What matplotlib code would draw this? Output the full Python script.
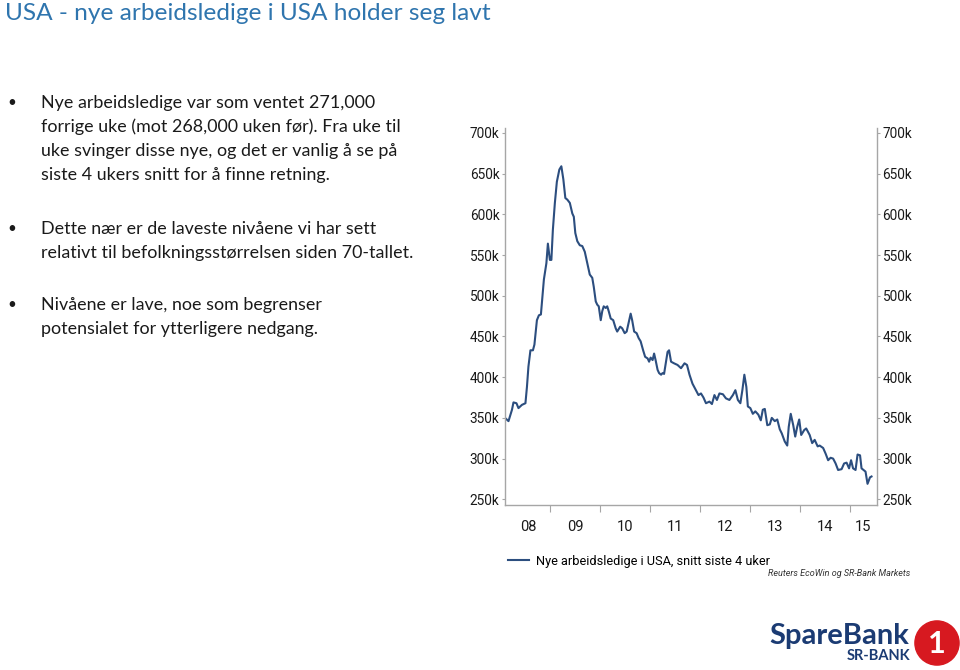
import matplotlib.pyplot as plt
from matplotlib.patches import Circle
from matplotlib.ticker import FixedLocator, FuncFormatter

# weekly claims, 4 week average (thousands)
years = [2008.09, 2008.16, 2008.23, 2008.26, 2008.32, 2008.36, 2008.43, 2008.50, 2008.53, 2008.56,
         2008.60, 2008.65, 2008.68, 2008.73, 2008.77, 2008.81, 2008.87, 2008.92, 2008.95, 2008.99,
         2009.02, 2009.05, 2009.09, 2009.13, 2009.18, 2009.22, 2009.26, 2009.30, 2009.34, 2009.39,
         2009.44, 2009.47, 2009.50, 2009.54, 2009.59, 2009.64, 2009.69, 2009.74, 2009.79, 2009.84,
         2009.87, 2009.91, 2009.94, 2009.97, 2010.01, 2010.04, 2010.07, 2010.11, 2010.14, 2010.17,
         2010.21, 2010.26, 2010.31, 2010.34, 2010.40, 2010.44, 2010.49, 2010.53, 2010.58, 2010.61,
         2010.64, 2010.68, 2010.73, 2010.77, 2010.81, 2010.86, 2010.90, 2010.95, 2010.98, 2011.01,
         2011.05, 2011.08, 2011.11, 2011.15, 2011.18, 2011.22, 2011.25, 2011.28, 2011.32, 2011.35,
         2011.38, 2011.42, 2011.48, 2011.55, 2011.62, 2011.69, 2011.74, 2011.79, 2011.85, 2011.92,
         2011.97, 2012.02, 2012.07, 2012.12, 2012.19, 2012.24, 2012.29, 2012.34, 2012.39, 2012.46,
         2012.52, 2012.59, 2012.66, 2012.71, 2012.76, 2012.81, 2012.85, 2012.89, 2012.93, 2012.96,
         2013.01, 2013.06, 2013.11, 2013.17, 2013.22, 2013.26, 2013.30, 2013.35, 2013.40, 2013.44,
         2013.50, 2013.55, 2013.60, 2013.64, 2013.70, 2013.75, 2013.78, 2013.82, 2013.87, 2013.91,
         2013.95, 2013.99, 2014.03, 2014.09, 2014.13, 2014.20, 2014.25, 2014.30, 2014.36, 2014.40,
         2014.47, 2014.52, 2014.57, 2014.62, 2014.67, 2014.72, 2014.77, 2014.84, 2014.89, 2014.94,
         2014.99, 2015.03, 2015.07, 2015.12, 2015.16, 2015.21, 2015.24, 2015.28, 2015.32, 2015.36,
         2015.41, 2015.44]
claims = [350, 346, 360, 369, 368, 362, 366, 368, 388, 413,
          433, 433, 440, 470, 476, 477, 520, 540, 564, 544,
          544, 581, 614, 640, 655, 659, 643, 620, 618, 614,
          601, 597, 577, 567, 562, 561, 554, 540, 526, 522,
          511, 493, 489, 487, 470, 481, 487, 485, 487, 481,
          472, 470, 460, 456, 462, 460, 454, 456, 470, 478,
          470, 456, 454, 448, 444, 433, 425, 423, 419, 424,
          421, 429, 421, 409, 405, 403, 405, 404, 419, 431,
          433, 419, 417, 415, 411, 417, 415, 403, 392, 384,
          378, 380, 375, 368, 370, 367, 378, 372, 380, 379,
          374, 372, 378, 384, 372, 368, 384, 403, 388, 364,
          362, 355, 358, 354, 347, 360, 361, 341, 342, 350,
          346, 348, 336, 331, 321, 316, 339, 355, 341, 327,
          339, 348, 329, 335, 337, 329, 319, 323, 315, 316,
          313, 306, 298, 301, 300, 294, 286, 287, 294, 295,
          288, 298, 288, 286, 305, 304, 288, 286, 284, 269,
          277, 278]

year_labels = ['08', '09', '10', '11', '12', '13', '14', '15']
y_ticks = [250, 300, 350, 400, 450, 500, 550, 600, 650, 700]

line_color = '#2C4E7F'
text_color = '#1a1a1a'
grey = '#a6a6a6'
chart_font = 'Roboto'

fig = plt.figure(figsize=(9.6, 6.7), dpi=100)

# slide title and bullet text
fig.text(5 / 960, 1 - 14 / 670, 'USA - nye arbeidsledige i USA holder seg lavt',
         fontsize=17.6, color='#2F75AE', family='Lato', va='center', ha='left')

bullets = [
    (103, ['Nye arbeidsledige var som ventet 271,000',
           'forrige uke (mot 268,000 uken før). Fra uke til',
           'uke svinger disse nye, og det er vanlig å se på',
           'siste 4 ukers snitt for å finne retning.']),
    (229, ['Dette nær er de laveste nivåene vi har sett',
           'relativt til befolkningsstørrelsen siden 70-tallet.']),
    (305, ['Nivåene er lave, noe som begrenser',
           'potensialet for ytterligere nedgang.']),
]
for ypix, lines in bullets:
    fig.text(7 / 960, 1 - ypix / 670, '•', fontsize=11, color=text_color,
             family='Lato', va='center')
    for i, line in enumerate(lines):
        fig.text(41 / 960, 1 - (ypix + i * 24) / 670, line, fontsize=12.9,
                 color=text_color, family='Lato', va='center')

# chart
ax = fig.add_axes([505 / 960, 1 - 505 / 670, 372 / 960, 377 / 670])
ax.plot(years, claims, color=line_color, lw=1.5)
ax.set_xlim(2008.09, 2015.55)
ax.set_ylim(243, 706)

for side in ['left', 'right', 'bottom']:
    ax.spines[side].set_color(grey)
    ax.spines[side].set_linewidth(1.0)
ax.spines['top'].set_visible(False)

ax.set_yticks(y_ticks)
ax.yaxis.set_major_formatter(FuncFormatter(lambda v, p: f'{int(v)}k'))
ax.tick_params(axis='y', which='both', length=2, color=grey, labelsize=9.8,
               labelcolor=text_color, left=True, right=True,
               labelleft=True, labelright=True, pad=2)
for lab in ax.get_yticklabels(which='both'):
    lab.set_family(chart_font)

ax.xaxis.set_major_locator(FixedLocator(range(2009, 2016)))
ax.xaxis.set_major_formatter(FuncFormatter(lambda v, p: ''))
mid = [2008.55] + [y + 0.5 for y in range(2009, 2015)] + [2015.27]
ax.xaxis.set_minor_locator(FixedLocator(mid))
ax.set_xticklabels(year_labels, minor=True, family=chart_font)
ax.tick_params(axis='x', which='major', length=5, color=grey, direction='out')
ax.tick_params(axis='x', which='minor', length=0, labelsize=10.5, colors=text_color, pad=11)

# legend below chart
ax.plot([], [], color=line_color, lw=1.5, label='Nye arbeidsledige i USA, snitt siste 4 uker')
ax.legend(loc='upper left', bbox_to_anchor=(-0.005, -0.118), frameon=False,
          prop={'family': chart_font, 'size': 9.2},
          handlelength=1.6, handletextpad=0.6, borderaxespad=0)

fig.text(910 / 960, 1 - 574 / 670, 'Reuters EcoWin og SR-Bank Markets', fontsize=6.5,
         style='italic', color='#333333', ha='right', va='center', family=chart_font)

# logo
fig.text(769 / 960, 1 - 636 / 670, 'SpareBank', fontsize=21, fontweight='bold',
         color='#1B3B73', family='Lato', ha='left', va='center')
fig.text(910 / 960, 1 - 656 / 670, 'SR-BANK', fontsize=10.5, fontweight='bold',
         color='#1B3B73', family='Lato', ha='right', va='center')
lax = fig.add_axes([914 / 960, 1 - 666 / 670, 46 / 960, 46 / 670])
lax.set_xlim(0, 1)
lax.set_ylim(0, 1)
lax.set_aspect('equal')
lax.axis('off')
lax.add_patch(Circle((0.5, 0.5), 0.48, color='#D71920'))
lax.text(0.5, 0.48, '1', color='white', fontsize=22, fontweight='bold', family='Lato',
         ha='center', va='center')

fig.savefig('out.png', dpi=100)
